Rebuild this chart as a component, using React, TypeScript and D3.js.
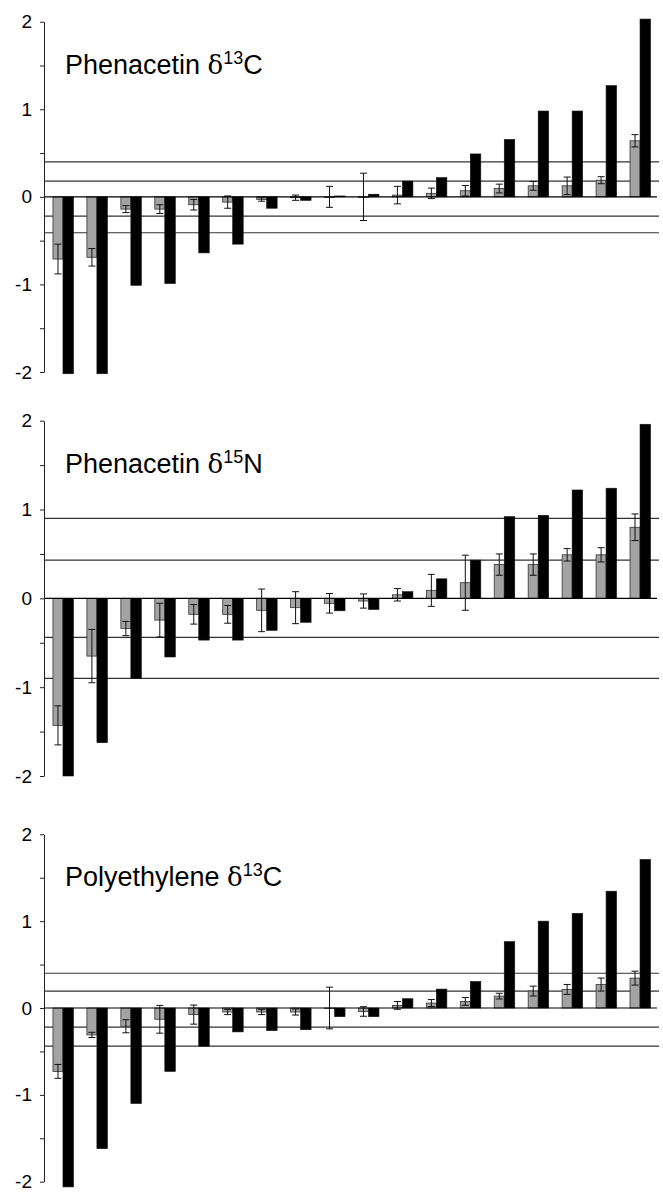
import React, { useEffect, useRef } from "react";
import * as d3 from "d3";

// 18 samples per panel, sorted by deviation
const samples = d3.range(1, 19).map(String);

// Phenacetin d13C
const c13Grey = [-0.71, -0.69, -0.14, -0.14, -0.09, -0.06, -0.03, -0.01, 0.0, 0.0, 0.02, 0.04, 0.07, 0.095, 0.126, 0.126, 0.19, 0.64];
const c13Err = [0.17, 0.1, 0.04, 0.05, 0.06, 0.07, 0.02, 0.03, 0.12, 0.27, 0.1, 0.06, 0.06, 0.05, 0.05, 0.1, 0.04, 0.07];
const c13Black = [-2.02, -2.02, -1.01, -0.99, -0.64, -0.54, -0.13, -0.04, 0.01, 0.03, 0.18, 0.22, 0.49, 0.655, 0.98, 0.98, 1.27, 2.03];
const c13Lines = [0.4, 0.18, -0.22, -0.41];

// Phenacetin d15N
const n15Grey = [-1.43, -0.65, -0.34, -0.245, -0.18, -0.18, -0.135, -0.105, -0.056, -0.03, 0.04, 0.09, 0.176, 0.38, 0.38, 0.49, 0.49, 0.8];
const n15Err = [0.22, 0.3, 0.08, 0.19, 0.11, 0.1, 0.24, 0.18, 0.11, 0.08, 0.07, 0.18, 0.31, 0.12, 0.12, 0.07, 0.08, 0.15];
const n15Black = [-2.0, -1.625, -0.9, -0.66, -0.47, -0.47, -0.36, -0.27, -0.14, -0.125, 0.075, 0.22, 0.43, 0.92, 0.935, 1.22, 1.24, 1.96];
const n15Lines = [0.9, 0.43, -0.44, -0.9];

// Polyethylene d13C
const peGrey = [-0.73, -0.31, -0.21, -0.13, -0.076, -0.046, -0.046, -0.046, 0.0, -0.04, 0.03, 0.057, 0.076, 0.137, 0.195, 0.214, 0.27, 0.344];
const peErr = [0.08, 0.03, 0.075, 0.16, 0.11, 0.03, 0.03, 0.035, 0.24, 0.055, 0.045, 0.04, 0.045, 0.033, 0.057, 0.057, 0.075, 0.08];
const peBlack = [-2.06, -1.62, -1.1, -0.73, -0.44, -0.275, -0.26, -0.25, -0.1, -0.1, 0.107, 0.218, 0.305, 0.764, 1.0, 1.09, 1.345, 1.71];
const peLines = [0.4, 0.195, -0.22, -0.44];

const yTicks = d3.range(-2, 2.01, 0.5);

const FONT = "'Liberation Sans', Arial, Helvetica, sans-serif";

function Panel({ title, iso, element, grey, err, black, lines, top, bottom }) {
  const axisRef = useRef(null);
  const x = d3.scaleBand().domain(samples).range([46, 657]);
  const y = d3.scaleLinear().domain([-2, 2]).range([bottom, top]);
  const y0 = y(0);
  const bw = 10;

  useEffect(() => {
    const axis = d3.axisLeft(y)
      .tickValues(yTicks)
      .tickSize(4)
      .tickSizeOuter(0)
      .tickPadding(8)
      .tickFormat(d => (Number.isInteger(d) ? String(d) : ""));
    const g = d3.select(axisRef.current);
    g.selectAll("*").remove();
    g.call(axis);
    g.selectAll("text").style("font-family", FONT).style("font-size", "19px").attr("fill", "#000");
    g.selectAll("line").attr("stroke", "#222");
    g.select(".domain").attr("stroke", "#222");
  });

  return (
    <g>
      {lines.map((v, i) => (
        <line key={"l" + i} x1={44} x2={659} y1={y(v)} y2={y(v)} stroke="#333" strokeWidth={1.2} />
      ))}
      {samples.map((s, i) => {
        const cx = x(s) + x.bandwidth() / 2;
        const gv = grey[i], bv = black[i];
        const gy = Math.min(y(gv), y0), gh = Math.max(Math.abs(y(gv) - y0), 0.6);
        const by = Math.min(y(bv), y0), bh = Math.max(Math.abs(y(bv) - y0), 0.6);
        const eHi = y(gv + err[i]), eLo = y(gv - err[i]);
        const ex = cx - bw / 2;
        return (
          <g key={s}>
            <rect x={cx - bw} y={gy} width={bw} height={gh} fill="#a3a3a3" stroke="#333" strokeWidth={0.8} />
            <rect x={cx} y={by} width={bw + 0.5} height={bh} fill="#000" stroke="#111" strokeWidth={0.6} />
            <line x1={ex} x2={ex} y1={eHi} y2={eLo} stroke="#111" strokeWidth={1} />
            <line x1={ex - 3.5} x2={ex + 3.5} y1={eHi} y2={eHi} stroke="#111" strokeWidth={1} />
            <line x1={ex - 3.5} x2={ex + 3.5} y1={eLo} y2={eLo} stroke="#111" strokeWidth={1} />
          </g>
        );
      })}
      <line x1={44} x2={657} y1={y0} y2={y0} stroke="#000" strokeWidth={1.2} />
      <g ref={axisRef} transform="translate(44,0)" />
      <text x={65} y={top + 52} fontFamily={FONT} fontSize={27} fill="#000">
        {title + " "}
        <tspan fontFamily="'DejaVu Serif', serif" fontSize={26}>δ</tspan>
        <tspan fontSize={18} dy={-10}>{iso}</tspan>
        <tspan dy={10}>{element}</tspan>
      </text>
    </g>
  );
}

export default function App() {
  return (
    <svg width={663} height={1196} style={{ position: "absolute", left: 0, top: 0, background: "#fff" }}>
      <rect width={663} height={1196} fill="#fff" />
      <Panel title="Phenacetin" iso="13" element="C" grey={c13Grey} err={c13Err} black={c13Black} lines={c13Lines} top={21.7} bottom={372} />
      <Panel title="Phenacetin" iso="15" element="N" grey={n15Grey} err={n15Err} black={n15Black} lines={n15Lines} top={420.7} bottom={776} />
      <Panel title="Polyethylene" iso="13" element="C" grey={peGrey} err={peErr} black={peBlack} lines={peLines} top={834.3} bottom={1181.7} />
    </svg>
  );
}
